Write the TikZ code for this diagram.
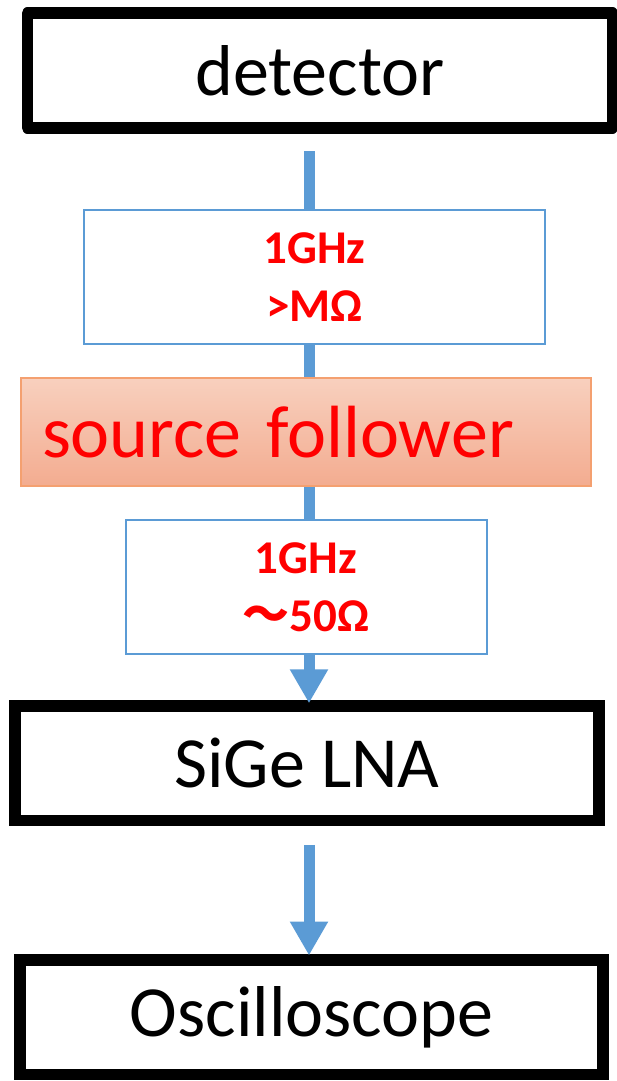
\documentclass[tikz,border=0pt]{standalone}
\usepackage{fontspec}
\setmainfont{Carlito}
\newfontfamily\cjkfont{Noto Sans CJK JP}
\usepackage{tikz}
\usetikzlibrary{arrows.meta,calc}
\definecolor{linkblue}{RGB}{91,155,213}
\definecolor{bufborder}{RGB}{244,160,112}
\definecolor{buftop}{RGB}{248,208,190}
\definecolor{bufbottom}{RGB}{243,172,144}
\tikzstyle{hardware} = [rectangle, draw=black, line width=11.5pt, minimum width=584pt, minimum height=114.5pt, text centered, font=\fontsize{72}{86}\selectfont]
\tikzstyle{spec} = [rectangle, draw=linkblue, line width=2pt, minimum height=134pt, align=center, text=red, font=\fontsize{47}{58}\selectfont\bfseries]
\tikzstyle{buffer} = [rectangle, draw=bufborder, line width=1.5pt, top color=buftop, bottom color=bufbottom, minimum width=570pt, minimum height=108pt, text width=528pt, inner xsep=21pt, align=left, text=red, font=\fontsize{74}{88}\selectfont]
\tikzstyle{link} = [draw=linkblue, line width=11pt]
\tikzstyle{arrow} = [link, -{Triangle[width=36pt,length=34pt]}]

\begin{document}
\begin{tikzpicture}[node distance=155pt]
\useasboundingbox (0pt,0pt) rectangle (616pt,-1081pt);
\coordinate (axis) at (309pt,0pt);

\node (detector) [hardware, line join=round, minimum width=585pt] at (320pt,-70.5pt) {detector};
\node (highz) [spec, minimum width=461pt, below of=detector, yshift=-51.5pt, xshift=-5.5pt] {1GHz\\>MΩ};
\node (follower) [buffer, below of=highz, xshift=-8.5pt] {source follower};
\node (lowz) [spec, minimum width=361pt, below of=follower] {1GHz\\{\cjkfont ～}50Ω};
\node (lna) [hardware, below of=lowz, yshift=-21.3pt, xshift=0.8pt] {SiGe LNA};
\node (scope) [hardware, minimum width=583pt, below of=lna, yshift=-98.7pt, xshift=4.7pt] {Oscilloscope};

\draw [link, shorten <=17.5pt] (detector.south -| axis) -- (highz.north -| axis);
\draw [link] (highz.south -| axis) -- (follower.north -| axis);
\draw [link] (follower.south -| axis) -- (lowz.north -| axis);
\draw [arrow, shorten >=-3pt] (lowz.south -| axis) -- (lna.north -| axis);
\draw [arrow, shorten <=18.5pt, shorten >=-1.5pt] (lna.south -| axis) -- (scope.north -| axis);
\end{tikzpicture}
\end{document}
